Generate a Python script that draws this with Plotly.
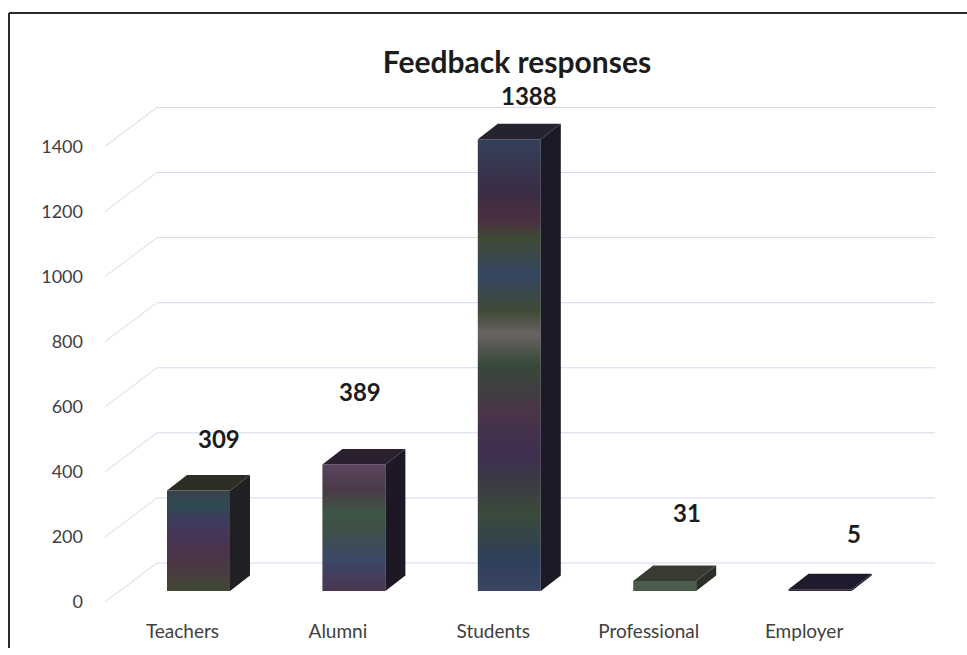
import plotly.graph_objects as go

# ---- data ----
categories = ["Teachers", "Alumni", "Students", "Professional", "Employer"]
responses = [309, 389, 1388, 31, 5]
y_ticks = [0, 200, 400, 600, 800, 1000, 1200, 1400]

# ---- canvas / projection settings ----
W, H = 967, 655
M_L, M_R, M_T, M_B = 88, 20, 80, 40
PX_PER_CAT = 155.4          # pixels between categories
PX_PER_VAL = 0.3254         # pixels per response unit
CAT0_PX = 182.5             # pixel x of first category on the front plane
ZERO_PX = 602.0             # pixel y of value 0 on the front plane

plot_w = W - M_L - M_R
plot_h = H - M_T - M_B
x_range = [(M_L - CAT0_PX) / PX_PER_CAT, (W - M_R - CAT0_PX) / PX_PER_CAT]
y_range = [(ZERO_PX - (H - M_B)) / PX_PER_VAL, (ZERO_PX - M_T) / PX_PER_VAL]


def dx(px):
    return px / PX_PER_CAT


def dv(px):
    return px / PX_PER_VAL


def paper_x(px):
    return (px - M_L) / plot_w


def paper_y(py):
    return (H - M_B - py) / plot_h


# 3D depth of the wall gridlines and of the columns
GRID_LEFT = dx(105 - CAT0_PX)
GRID_RIGHT = dx(935 - CAT0_PX)
WALL_DX, WALL_DV = dx(52), dv(39)
BAR_OFF = dx(16)            # front face centre shift from the category position
BAR_HALF = dx(31.5)
BAR_BASE = dv(11)           # front face bottom sits above the front floor edge
BAR_DX, BAR_DV = dx(20), dv(15.5)

# face colours (bottom -> top stops for the front faces)
front_scales = [
    [[0, "#3f4a34"], [0.18, "#4a3a40"], [0.45, "#4a3450"], [0.7, "#3f3a5e"], [0.85, "#2f4a52"], [1, "#38424a"]],
    [[0, "#4a3550"], [0.25, "#3d4868"], [0.5, "#3e5046"], [0.62, "#3d5545"], [0.8, "#4a3a48"], [1, "#5a4560"]],
    [[0, "#3a4562"], [0.07, "#2f3f5a"], [0.17, "#3a4a3a"], [0.3, "#3e2e50"], [0.4, "#4a3548"],
     [0.5, "#35493a"], [0.57, "#6a6262"], [0.62, "#3e4a35"], [0.7, "#344560"], [0.78, "#3f4a36"],
     [0.82, "#4a3040"], [0.88, "#3a2c44"], [1, "#34405a"]],
    [[0, "#4a5a48"], [1, "#4e5e4c"]],
    [[0, "#2a2238"], [1, "#2a2238"]],
]
side_colors = ["#1f1f24", "#1e1826", "#1d1a28", "#2a3028", "#1a1524"]
top_colors = ["#2c2e26", "#2a2030", "#262230", "#383c32", "#1f1a2c"]

label_shift_x = [0, -14, 0, 2, 14]
label_shift_y = [36, 57, 28, 53, 40]

fig = go.Figure()

# slanted wall gridlines
for v in y_ticks:
    fig.add_trace(go.Scatter(
        x=[GRID_LEFT, GRID_LEFT + WALL_DX, GRID_RIGHT],
        y=[v, v + WALL_DV, v + WALL_DV],
        mode="lines", line=dict(color="#d6d8ee", width=1),
        hoverinfo="skip", showlegend=False))

# 3D columns: front, side and top faces from each value
for i, val in enumerate(responses):
    xl = i + BAR_OFF - BAR_HALF
    xr = i + BAR_OFF + BAR_HALF
    b = BAR_BASE
    t = BAR_BASE + val
    fig.add_trace(go.Scatter(
        x=[xl, xr, xr, xl, xl], y=[b, b, t, t, b],
        mode="lines", fill="toself", line=dict(width=0),
        fillcolor=front_scales[i][0][1],
        fillgradient=dict(type="vertical", colorscale=front_scales[i], start=b, stop=t),
        hoverinfo="skip", showlegend=False))
    fig.add_trace(go.Scatter(
        x=[xr, xr, xr + BAR_DX, xr + BAR_DX, xr],
        y=[b, t, t + BAR_DV, b + BAR_DV, b],
        mode="lines", fill="toself", line=dict(width=0),
        fillcolor=side_colors[i], hoverinfo="skip", showlegend=False))
    fig.add_trace(go.Scatter(
        x=[xl, xl + BAR_DX, xr + BAR_DX, xr, xl],
        y=[t, t + BAR_DV, t + BAR_DV, t, t],
        mode="lines", fill="toself", line=dict(width=0),
        fillcolor=top_colors[i], hoverinfo="skip", showlegend=False))
    fig.add_annotation(
        x=i + BAR_OFF + BAR_DX, y=t + BAR_DV, text=str(val), showarrow=False,
        xshift=label_shift_x[i], yshift=label_shift_y[i],
        font=dict(family="Lato", size=24, color="#1c1c1c", weight="bold"))

# chart frame (top and left edges)
fig.add_shape(type="line", xref="paper", yref="paper",
              x0=paper_x(9), x1=paper_x(W + 5), y0=paper_y(13), y1=paper_y(13),
              line=dict(color="#2a2a2a", width=2))
fig.add_shape(type="line", xref="paper", yref="paper",
              x0=paper_x(9), x1=paper_x(9), y0=paper_y(13), y1=paper_y(648),
              line=dict(color="#2a2a2a", width=2))

fig.update_layout(
    width=W, height=H,
    margin=dict(l=M_L, r=M_R, t=M_T, b=M_B, autoexpand=False),
    paper_bgcolor="white", plot_bgcolor="white",
    title=dict(text="<b>Feedback responses</b>", x=517 / W, xanchor="center",
               y=1 - 62 / H, yanchor="middle",
               font=dict(family="Lato", size=30, color="#1c1c1c")),
    xaxis=dict(range=x_range, tickmode="array", tickvals=list(range(len(categories))),
               ticktext=categories, showgrid=False, zeroline=False, showline=False,
               ticks="", ticklabelstandoff=3, automargin=False,
               tickfont=dict(family="Lato", size=19, color="#404040")),
    yaxis=dict(range=y_range, tickmode="array", tickvals=y_ticks,
               ticktext=[str(v) for v in y_ticks], showgrid=False, zeroline=False,
               showline=False, ticks="", ticklabelstandoff=4, automargin=False,
               tickfont=dict(family="Lato", size=18, color="#404040")),
)

fig.write_html("out.html")
